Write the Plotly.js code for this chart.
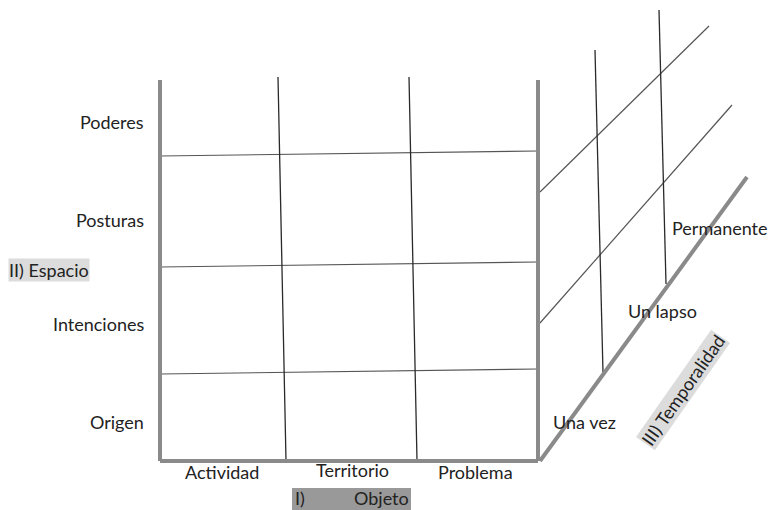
<!DOCTYPE html>
<html><head><meta charset="utf-8">
<script src="https://cdn.plot.ly/plotly-3.0.1.min.js"></script>
<style>html,body{margin:0;padding:0;background:#fff}#chart{width:771px;height:510px}</style>
</head><body><div id="chart"></div>
<script>
// ---- data (labels of the three dimensions) ----
const rowLabels = ['Origen', 'Intenciones', 'Posturas', 'Poderes'];
const colLabels = ['Actividad', 'Territorio', 'Problema'];
const timeLabels = ['Una vez', 'Un lapso', 'Permanente'];
const objetoLabel = ['I)', 'Objeto'];
const espacioLabel = 'II) Espacio';
const temporalidadLabel = 'III) Temporalidad';

// ---- geometry (diagram coordinates, y grows downward) ----
const frame = {left: 160, right: 538, top: 80, bottom: 461};
const frontH = [[156, 151], [267, 262], [374, 369]];            // y at left / right edge
const frontV = [[278, 77, 286, 461], [409, 77, 417, 461]];      // x0,y0,x1,y1
const depthAxis = [540, 461, 747, 177];
const sideDiag = [[540, 192, 709, 26], [540, 323, 732, 105]];
const sideV = [[595, 50, 603, 372], [659, 10, 666, 284]];
const rowLabelY = [422, 324, 220, 122];
const colLabelX = [222, 352, 475];
const colLabelY = [472, 470, 472];
const timeLabelPos = [[551, 422], [626, 311], [670, 228]];

const traces = [];
function seg(x0, y0, x1, y1, color, width) {
  traces.push({x: [x0, x1], y: [y0, y1], mode: 'lines', type: 'scatter', hoverinfo: 'skip',
    line: {color: color, width: width}, showlegend: false});
}
const thin = '#2a2a2a', thinGray = '#555', thick = '#8a8a8a';
frontH.forEach(h => seg(frame.left, h[0], frame.right, h[1], thinGray, 1.2));
frontV.forEach(v => seg(v[0], v[1], v[2], v[3], thin, 1.3));
sideDiag.forEach(d => seg(d[0], d[1], d[2], d[3], thinGray, 1.2));
sideV.forEach(v => seg(v[0], v[1], v[2], v[3], thin, 1.3));
// thick frame
seg(frame.left, frame.top, frame.left, frame.bottom, thick, 4);
seg(frame.left, frame.bottom, frame.right, frame.bottom, thick, 4);
seg(frame.right, frame.top, frame.right, frame.bottom, thick, 4);
seg(depthAxis[0], depthAxis[1], depthAxis[2], depthAxis[3], thick, 4);

const font = {family: 'Lato, "Open Sans", sans-serif', size: 18, color: '#222'};
const ann = [];
rowLabels.forEach((t, i) => ann.push({x: 146, y: rowLabelY[i], text: t, showarrow: false,
  xanchor: 'right', yanchor: 'middle', font: font}));
colLabels.forEach((t, i) => ann.push({x: colLabelX[i], y: colLabelY[i], text: t, showarrow: false,
  xanchor: 'center', yanchor: 'middle', font: font}));
timeLabels.forEach((t, i) => ann.push({x: timeLabelPos[i][0], y: timeLabelPos[i][1], text: t, showarrow: false,
  xanchor: 'left', yanchor: 'middle', font: font}));
ann.push({x: 8, y: 270, text: espacioLabel, showarrow: false, xanchor: 'left', yanchor: 'middle',
  font: font, bgcolor: '#dcdcdc', borderpad: 0});
ann.push({x: 683, y: 390, text: temporalidadLabel, showarrow: false, xanchor: 'center', yanchor: 'middle',
  textangle: -55, font: font, bgcolor: '#dcdcdc', borderpad: 0});

const shapes = [{type: 'rect', x0: 292, x1: 411, y0: 488, y1: 512, fillcolor: '#999', line: {width: 0}, layer: 'below'}];
ann.push({x: 293, y: 498, text: objetoLabel[0], showarrow: false, xanchor: 'left', yanchor: 'middle', font: font});
ann.push({x: 411, y: 498, text: objetoLabel[1], showarrow: false, xanchor: 'right', yanchor: 'middle', font: font});

Plotly.newPlot('chart', traces, {
  width: 771, height: 510, margin: {l: 0, r: 0, t: 0, b: 0},
  paper_bgcolor: '#fff', plot_bgcolor: '#fff',
  xaxis: {range: [0, 771], visible: false, fixedrange: true},
  yaxis: {range: [510, 0], visible: false, fixedrange: true},
  annotations: ann, shapes: shapes, showlegend: false
}, {displayModeBar: false, staticPlot: true});
</script></body></html>
